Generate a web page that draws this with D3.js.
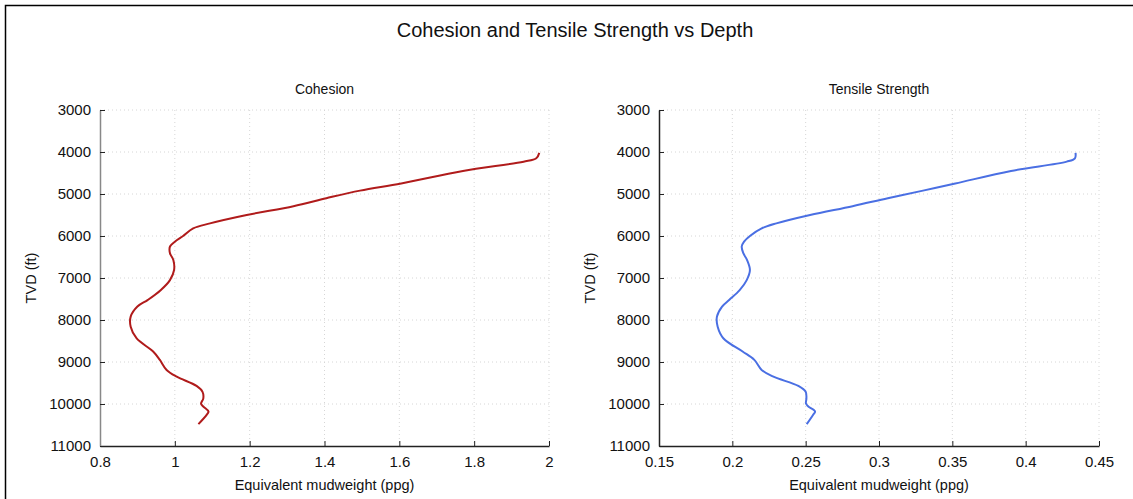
<!DOCTYPE html>
<html lang="en">
<head>
  <meta charset="UTF-8">
  <title>Cohesion and Tensile Strength vs Depth</title>
  <style>
    body{margin:0;background:#fff;}
    svg{display:block;font-family:"Liberation Sans",Arial,Helvetica,sans-serif;}
  </style>
</head>
<body>
<svg width="1133" height="499"></svg>

<script src="https://cdn.jsdelivr.net/npm/d3@7"></script>
<script>
  // depth (ft) shared by both curves
  var depth = [4020, 4150, 4230, 4450, 4750, 4920, 5100, 5290, 5500, 5700, 5820, 6000,
    6135, 6250, 6410, 6570, 6810, 7050, 7290, 7520, 7680, 7920, 8160, 8440,
    8750, 8950, 9190, 9350, 9570, 9710, 9870, 9990, 10060, 10180, 10260, 10480];
  var cohesion = [1.974, 1.966, 1.932, 1.770, 1.605, 1.495, 1.405, 1.317, 1.192, 1.094, 1.049, 1.022,
    1.000, 0.987, 0.987, 0.996, 0.998, 0.987, 0.962, 0.928, 0.900, 0.882, 0.882, 0.898,
    0.942, 0.960, 0.978, 1.005, 1.058, 1.074, 1.076, 1.070, 1.076, 1.090, 1.085, 1.063];
  var tensile = [0.434, 0.4336, 0.428, 0.390, 0.352, 0.330, 0.306, 0.282, 0.253, 0.230, 0.220, 0.212,
    0.208, 0.2064, 0.2075, 0.210, 0.212, 0.2098, 0.205, 0.198, 0.193, 0.1895, 0.190, 0.194,
    0.207, 0.215, 0.220, 0.228, 0.245, 0.250, 0.2505, 0.2502, 0.2518, 0.2564, 0.255, 0.2507];

  var depthTicks = [3000, 4000, 5000, 6000, 7000, 8000, 9000, 10000, 11000];
  var cohesionTicks = [0.8, 1, 1.2, 1.4, 1.6, 1.8, 2];
  var tensileTicks = [0.15, 0.2, 0.25, 0.3, 0.35, 0.4, 0.45];

  var svg = d3.select('svg');

  // frame
  svg.append('rect').attr('x', 5.5).attr('y', 5.5).attr('width', 1140).attr('height', 510)
    .attr('fill', 'none').attr('stroke', '#000').attr('stroke-width', 1.5);

  svg.append('text').attr('x', 575).attr('y', 37).attr('text-anchor', 'middle')
    .attr('font-size', 20).attr('fill', '#111').text('Cohesion and Tensile Strength vs Depth');

  var plotTop = 110, plotBottom = 446;

  var panels = [
    {title: 'Cohesion', left: 100, right: 549, values: cohesion, ticks: cohesionTicks,
     domain: [0.8, 2], color: '#b01b1b', yAxisColor: '#888'},
    {title: 'Tensile Strength', left: 659, right: 1099, values: tensile, ticks: tensileTicks,
     domain: [0.15, 0.45], color: '#4a6fe3', yAxisColor: '#222'}
  ];

  panels.forEach(function (p) {
    var x = d3.scaleLinear().domain(p.domain).range([p.left, p.right]);
    var y = d3.scaleLinear().domain([3000, 11000]).range([plotTop, plotBottom]);
    var g = svg.append('g');

    // grid
    g.append('g').selectAll('line').data(p.ticks.slice(1)).enter().append('line')
      .attr('x1', function (d) { return x(d); }).attr('x2', function (d) { return x(d); })
      .attr('y1', plotTop).attr('y2', plotBottom)
      .attr('stroke', '#d6d6d6').attr('stroke-width', 1).attr('stroke-dasharray', '1,3');
    g.append('g').selectAll('line').data(depthTicks.slice(0, -1)).enter().append('line')
      .attr('y1', function (d) { return y(d); }).attr('y2', function (d) { return y(d); })
      .attr('x1', p.left).attr('x2', p.right)
      .attr('stroke', '#d6d6d6').attr('stroke-width', 1).attr('stroke-dasharray', '1,3');

    // x axis
    var xa = g.append('g').attr('transform', 'translate(0,' + plotBottom + ')')
      .call(d3.axisBottom(x).tickValues(p.ticks).tickSizeInner(-5).tickSizeOuter(0)
        .tickPadding(10).tickFormat(d3.format('')));
    xa.select('.domain').attr('stroke', '#222').attr('stroke-width', 1.3);
    xa.selectAll('.tick line').attr('stroke', '#222');
    xa.selectAll('text').attr('font-size', 15).attr('fill', '#111')
      .attr('font-family', '"Liberation Sans",Arial,sans-serif');

    // y axis
    var ya = g.append('g').attr('transform', 'translate(' + p.left + ',0)')
      .call(d3.axisLeft(y).tickValues(depthTicks).tickSizeInner(-5).tickSizeOuter(0)
        .tickPadding(9).tickFormat(d3.format('d')));
    ya.select('.domain').attr('stroke', p.yAxisColor).attr('stroke-width', 1.5);
    ya.selectAll('.tick line').attr('stroke', '#222');
    ya.selectAll('text').attr('font-size', 15).attr('fill', '#111')
      .attr('font-family', '"Liberation Sans",Arial,sans-serif');

    // curve
    var pts = depth.map(function (d, i) { return [p.values[i], d]; });
    var line = d3.line().x(function (d) { return x(d[0]); }).y(function (d) { return y(d[1]); })
      .curve(d3.curveCatmullRom.alpha(0.5));
    g.append('path').datum(pts).attr('d', line).attr('fill', 'none')
      .attr('stroke', p.color).attr('stroke-width', 2);

    // labels
    g.append('text').attr('x', (p.left + p.right) / 2).attr('y', 94).attr('text-anchor', 'middle')
      .attr('font-size', 14).attr('fill', '#111').text(p.title);
    g.append('text').attr('x', (p.left + p.right) / 2).attr('y', 490).attr('text-anchor', 'middle')
      .attr('font-size', 14.5).attr('fill', '#111').text('Equivalent mudweight (ppg)');
    g.append('text').attr('transform', 'translate(' + (p.left - 64) + ',' + ((plotTop + plotBottom) / 2) + ') rotate(-90)')
      .attr('text-anchor', 'middle').attr('font-size', 14.5).attr('fill', '#111').text('TVD (ft)');
  });
</script>
</body>
</html>
